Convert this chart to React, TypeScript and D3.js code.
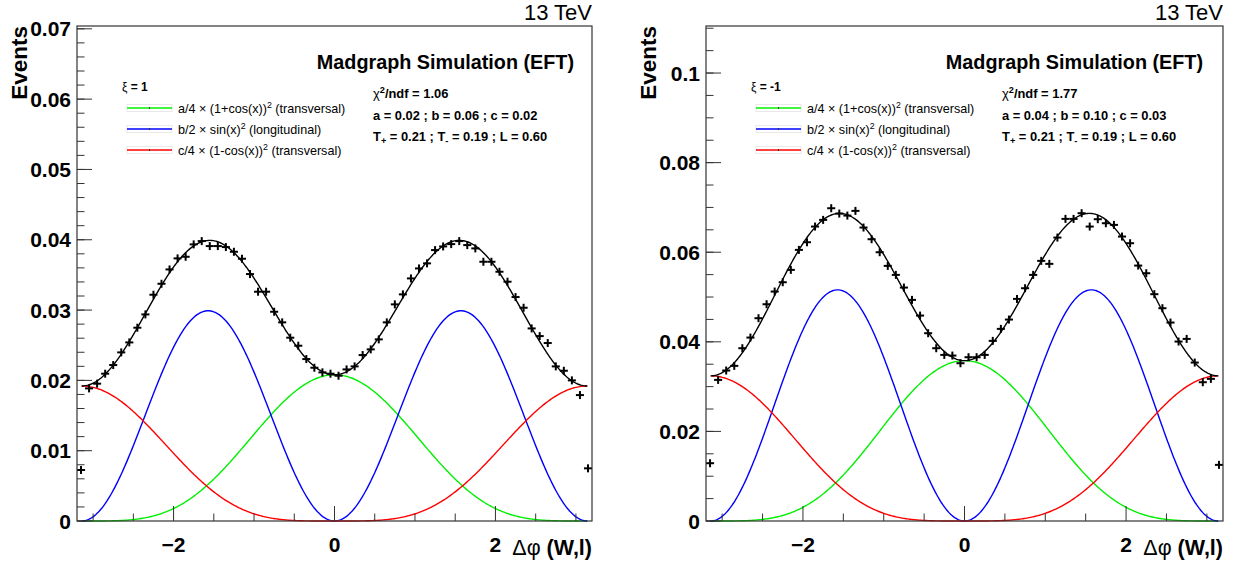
import React from "react";
import * as d3 from "d3";

// Histogram binning (64 bins of width 0.1 from -3.2 to 3.2)
const binLow = -3.2;
const binWidth = 0.1;

// xi = 1 : normalised event counts per bin
const valuesXiPlus = [
  0.00725, 0.01886, 0.01953, 0.02095, 0.02218, 0.02398, 0.0254, 0.02749,
  0.02938, 0.03218, 0.03374, 0.03578, 0.03735, 0.03758, 0.03934, 0.03981,
  0.0391, 0.0391, 0.03896, 0.03829, 0.0373, 0.03512, 0.03261, 0.03261,
  0.02976, 0.02825, 0.02607, 0.02493, 0.02303, 0.0218, 0.02114, 0.02095,
  0.02066, 0.02156, 0.02199, 0.0236, 0.02441, 0.02583, 0.02825, 0.03081,
  0.03223, 0.0345, 0.03592, 0.03664, 0.03853, 0.03905, 0.03938, 0.03981,
  0.03924, 0.03877, 0.03687, 0.03687, 0.03545, 0.03403, 0.03185, 0.03033,
  0.02739, 0.0263, 0.02531, 0.02199, 0.02137, 0.02, 0.01791, 0.00749,
];

// xi = -1 : normalised event counts per bin
const valuesXiMinus = [
  0.0129, 0.0315, 0.03359, 0.03463, 0.03857, 0.04095, 0.04527, 0.04839,
  0.05122, 0.0533, 0.05606, 0.06052, 0.06223, 0.06573, 0.06722, 0.06982,
  0.06863, 0.06818, 0.06923, 0.06551, 0.0629, 0.06, 0.05695, 0.05494,
  0.05211, 0.04936, 0.04586, 0.04192, 0.03857, 0.03708, 0.03693, 0.03522,
  0.03656, 0.03656, 0.03708, 0.04021, 0.04289, 0.04497, 0.04958, 0.05196,
  0.05494, 0.05807, 0.0574, 0.06327, 0.06744, 0.06744, 0.06871, 0.06573,
  0.06737, 0.06647, 0.0661, 0.0635, 0.06201, 0.05702, 0.05531, 0.05063,
  0.0475, 0.0443, 0.04006, 0.04065, 0.03537, 0.03098, 0.03173, 0.01253,
];

// Fit parameters [a, b, c]
const fitXiPlus = [0.0208, 0.0598, 0.0192];
const fitXiMinus = [0.0358, 0.1032, 0.0324];

// Axis ticks
const xMajorTicks = [-2, 0, 2];
const xMajorLabels = ["\u22122", "0", "2"];
const xMinorTicks = [-3, -2.5, -1.5, -1, -0.5, 0.5, 1, 1.5, 2.5, 3];

const yMajorLeft = [0, 0.01, 0.02, 0.03, 0.04, 0.05, 0.06, 0.07];
const yLabelsLeft = ["0", "0.01", "0.02", "0.03", "0.04", "0.05", "0.06", "0.07"];
const yMajorRight = [0, 0.02, 0.04, 0.06, 0.08, 0.1];
const yLabelsRight = ["0", "0.02", "0.04", "0.06", "0.08", "0.1"];

const legendLabelsPre = ["a/4 \u00d7 (1+cos(x))", "b/2 \u00d7 sin(x)", "c/4 \u00d7 (1-cos(x))"];
const legendLabelsPost = [" (transversal)", " (longitudinal)", " (transversal)"];
const compColors = ["#00f000", "#0000ff", "#ff0000"];

const FONT = "'Liberation Sans', Arial, Helvetica, sans-serif";

type PanelProps = {
  x0: number;
  width: number;
  yMax: number;
  values: number[];
  fit: number[];
  yMajor: number[];
  yLabels: string[];
  yMinorStep: number;
  xiLabel: string;
  chi2: string;
  paramText: string;
};

function Panel(p: PanelProps) {
  const top = 26;
  const bottom = 521;
  const x = d3.scaleLinear().domain([-3.2, 3.2]).range([p.x0, p.x0 + p.width]);
  const y = d3.scaleLinear().domain([0, p.yMax]).range([bottom, top]);
  const [a, b, c] = p.fit;
  const comps = [
    (t: number) => (a / 4) * Math.pow(1 + Math.cos(t), 2),
    (t: number) => (b / 2) * Math.pow(Math.sin(t), 2),
    (t: number) => (c / 4) * Math.pow(1 - Math.cos(t), 2),
  ];
  const total = (t: number) => comps[0](t) + comps[1](t) + comps[2](t);
  const samples = d3.range(0, 401).map((i) => -Math.PI + (2 * Math.PI * i) / 400);
  const line = (f: (t: number) => number) =>
    d3
      .line<number>()
      .x((t) => x(t))
      .y((t) => y(f(t)))(samples) || "";

  const yMinor = d3.range(0, p.yMax + 1e-9, p.yMinorStep);
  const right = p.x0 + p.width;
  const lx = p.x0 + 45; // legend offset
  const sx = p.x0 + 296; // stats offset

  return (
    <g>
      {comps.map((f, i) => (
        <path key={i} d={line(f)} fill="none" stroke={compColors[i]} strokeWidth={1.4} />
      ))}
      <path d={line(total)} fill="none" stroke="#000" strokeWidth={1.4} />
      {p.values.map((v, i) => {
        const lo = binLow + i * binWidth;
        const cx = x(lo + binWidth / 2);
        const cy = y(v);
        return (
          <g key={i} stroke="#000" strokeWidth={2}>
            <line x1={x(lo)} x2={x(lo + binWidth)} y1={cy} y2={cy} />
            <line x1={cx} x2={cx} y1={cy - 4} y2={cy + 4} />
          </g>
        );
      })}
      <rect x={p.x0} y={top} width={p.width} height={bottom - top} fill="none" stroke="#333" strokeWidth={1.2} />
      {yMinor.map((t, i) => (
        <line key={"ym" + i} x1={p.x0} x2={p.x0 + 7.5} y1={y(t)} y2={y(t)} stroke="#333" strokeWidth={1} />
      ))}
      {p.yMajor.map((t, i) => (
        <line key={"yM" + i} x1={p.x0} x2={p.x0 + 15} y1={y(t)} y2={y(t)} stroke="#333" strokeWidth={1} />
      ))}
      {p.yMajor.map((t, i) => (
        <text key={"yl" + i} x={p.x0 - 6} y={y(t) + 7.5} textAnchor="end" fontFamily={FONT} fontWeight="bold" fontSize={21}>
          {p.yLabels[i]}
        </text>
      ))}
      {xMinorTicks.map((t, i) => (
        <line key={"xm" + i} x1={x(t)} x2={x(t)} y1={bottom} y2={bottom - 7.5} stroke="#333" strokeWidth={1} />
      ))}
      {xMajorTicks.map((t, i) => (
        <line key={"xM" + i} x1={x(t)} x2={x(t)} y1={bottom} y2={bottom - 15} stroke="#333" strokeWidth={1} />
      ))}
      {xMajorTicks.map((t, i) => (
        <text key={"xl" + i} x={x(t)} y={552} textAnchor="middle" fontFamily={FONT} fontWeight="bold" fontSize={21}>
          {xMajorLabels[i]}
        </text>
      ))}
      <text x={right} y={555} textAnchor="end" fontFamily={FONT} fontSize={21.5}>
        <tspan>{"\u0394\u03c6"}</tspan>
        <tspan fontWeight="bold">{" (W,l)"}</tspan>
      </text>
      <text
        transform={`translate(${p.x0 - 50},${top}) rotate(-90)`}
        textAnchor="end"
        fontFamily={FONT}
        fontWeight="bold"
        fontSize={22.5}
      >
        Events
      </text>
      <text x={right} y={20} textAnchor="end" fontFamily={FONT} fontSize={22}>
        13 TeV
      </text>
      <text x={p.x0 + 497} y={69} textAnchor="end" fontFamily={FONT} fontWeight="bold" fontSize={19.8}>
        Madgraph Simulation (EFT)
      </text>
      <text x={lx} y={91} fontFamily={FONT} fontSize={12} fontWeight="bold">
        <tspan fontWeight="normal">{"\u03be"}</tspan>
        {" = " + p.xiLabel}
      </text>
      {legendLabelsPre.map((s, i) => {
        const ly = 108 + i * 21;
        return (
          <g key={"lg" + i}>
            <rect x={lx + 5} y={ly - 3.5} width={45} height={7} fill="none" stroke="#e4e4e4" strokeWidth={0.8} />
            <line x1={lx + 5} x2={lx + 50} y1={ly} y2={ly} stroke={compColors[i]} strokeWidth={1.5} />
            <line x1={lx + 27.5} x2={lx + 27.5} y1={ly - 1} y2={ly + 1} stroke="#333" strokeWidth={1} />
            <text x={lx + 56} y={ly + 4.5} fontFamily={FONT} fontSize={12.6}>
              {s}
              <tspan dy={-5} fontSize={8.8}>2</tspan>
              <tspan dy={5}>{legendLabelsPost[i]}</tspan>
            </text>
          </g>
        );
      })}
      <text x={sx} y={98} fontFamily={FONT} fontSize={12.9} fontWeight="bold">
        <tspan fontWeight="normal">{"\u03c7"}</tspan>
        <tspan dy={-5} fontSize={9.2}>2</tspan>
        <tspan dy={5}>{"/ndf = " + p.chi2}</tspan>
      </text>
      <text x={sx} y={120} fontFamily={FONT} fontSize={12.9} fontWeight="bold">
        {p.paramText}
      </text>
      <text x={sx} y={141} fontFamily={FONT} fontSize={12.9} fontWeight="bold">
        T<tspan dy={3} fontSize={9.2}>+</tspan>
        <tspan dy={-3}>{" = 0.21 ; T"}</tspan>
        <tspan dy={3} fontSize={9.2}>-</tspan>
        <tspan dy={-3}>{" = 0.19 ; L = 0.60"}</tspan>
      </text>
    </g>
  );
}

export default function App() {
  return (
    <div style={{ position: "absolute", left: 0, top: 0 }}>
      <svg width={1236} height={564} style={{ display: "block", background: "#fff" }}>
        <rect width={1236} height={564} fill="#fff" />
        <Panel
          x0={77}
          width={515}
          yMax={0.0704}
          values={valuesXiPlus}
          fit={fitXiPlus}
          yMajor={yMajorLeft}
          yLabels={yLabelsLeft}
          yMinorStep={0.002}
          xiLabel="1"
          chi2="1.06"
          paramText="a = 0.02 ; b = 0.06 ; c = 0.02"
        />
        <Panel
          x0={706}
          width={517}
          yMax={0.1105}
          values={valuesXiMinus}
          fit={fitXiMinus}
          yMajor={yMajorRight}
          yLabels={yLabelsRight}
          yMinorStep={0.005}
          xiLabel="-1"
          chi2="1.77"
          paramText="a = 0.04 ; b = 0.10 ; c = 0.03"
        />
      </svg>
    </div>
  );
}
